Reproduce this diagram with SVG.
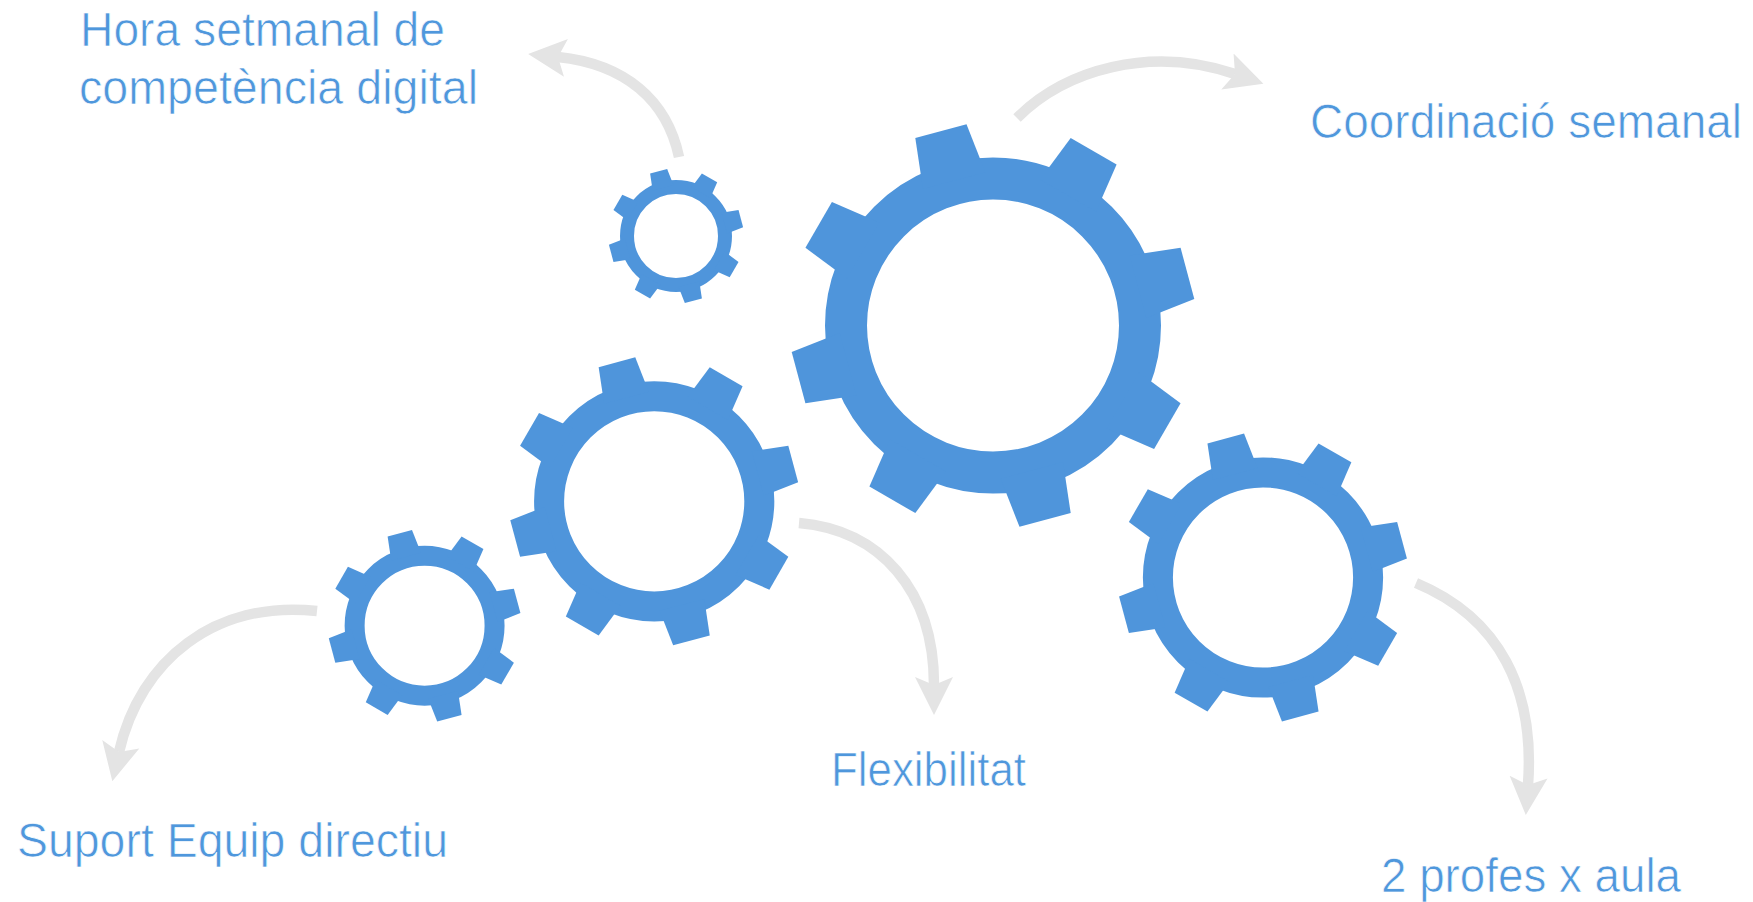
<svg xmlns="http://www.w3.org/2000/svg" xmlns:xlink="http://www.w3.org/1999/xlink" width="1753" height="902" viewBox="0 0 1753 902">
<style>
.ring{fill:none;stroke:#4f95db;stroke-width:42}
.tooth{fill:#4f95db}
.conn{fill:none;stroke:#e4e4e4;stroke-width:10.5}
.head{fill:#e4e4e4}
.label{font-family:"Liberation Sans",Arial,sans-serif;font-size:47.5px;fill:#4f97dc;stroke:#ffffff;stroke-width:0.7px}
</style>
<defs>
<path id="tooth" class="tooth" d="M-32.3,-150 L-26.5,-201.3 L26.5,-201.3 L32.3,-150 Z"/>
<g id="gear">
<circle class="ring" r="147"/>
<use href="#tooth" transform="rotate(-15)"/>
<use href="#tooth" transform="rotate(30)"/>
<use href="#tooth" transform="rotate(75)"/>
<use href="#tooth" transform="rotate(120)"/>
<use href="#tooth" transform="rotate(165)"/>
<use href="#tooth" transform="rotate(210)"/>
<use href="#tooth" transform="rotate(255)"/>
<use href="#tooth" transform="rotate(300)"/>
</g>
<marker id="arrow" markerUnits="userSpaceOnUse" markerWidth="50" markerHeight="50" refX="8" refY="25" orient="auto" viewBox="0 0 50 50"><path class="head" d="M0,6 L38,25 L0,44 L8,25 Z"/></marker>
</defs>
<rect width="1753" height="902" fill="#ffffff"/>
<g id="connectors">
<path class="conn" marker-end="url(#arrow)" d="M679,157 C667,100 625,64 558,57"/>
<path class="conn" marker-end="url(#arrow)" d="M1017,118 C1065,70 1150,45 1235,74"/>
<path class="conn" marker-end="url(#arrow)" d="M799,523 C880,530 934,590 934,685"/>
<path class="conn" marker-end="url(#arrow)" d="M1416,583 C1500,618 1535,690 1528,785"/>
<path class="conn" marker-end="url(#arrow)" d="M317,611 C215,600 140,660 119,752"/>
</g>
<g id="gear-large"><use href="#gear" transform="translate(993,325.5)"/></g>
<g id="gear-top"><use href="#gear" transform="translate(676,236) scale(0.3333)"/></g>
<g id="gear-medium"><use href="#gear" transform="translate(654.2,501.3) scale(0.715)"/></g>
<g id="gear-left"><use href="#gear" transform="translate(424.6,625.7) scale(0.476)"/></g>
<g id="gear-right"><use href="#gear" transform="translate(1263,577.5) scale(0.715)"/></g>
<g id="label-hora"><text class="label"><tspan x="80" y="46" textLength="365" lengthAdjust="spacingAndGlyphs">Hora setmanal de</tspan><tspan x="79" y="104" textLength="399" lengthAdjust="spacingAndGlyphs">competència digital</tspan></text></g>
<g id="label-coord"><text class="label" x="1310" y="138" textLength="432" lengthAdjust="spacingAndGlyphs">Coordinació semanal</text></g>
<g id="label-flex"><text class="label" x="831" y="786" textLength="195" lengthAdjust="spacingAndGlyphs">Flexibilitat</text></g>
<g id="label-suport"><text class="label" x="17" y="857" textLength="431" lengthAdjust="spacingAndGlyphs">Suport Equip directiu</text></g>
<g id="label-profes"><text class="label" x="1381" y="892" textLength="300" lengthAdjust="spacingAndGlyphs">2 profes x aula</text></g>
</svg>
